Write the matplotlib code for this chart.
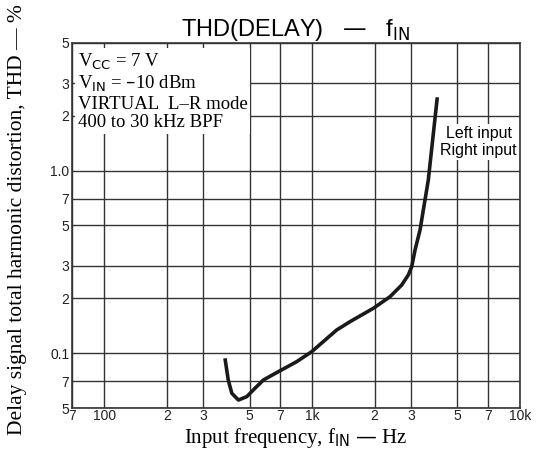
import matplotlib
matplotlib.use('Agg')
import matplotlib.pyplot as plt
from matplotlib.ticker import FixedLocator, FixedFormatter, NullLocator

# curve (Hz, %)
freq = [381, 395, 411, 442, 485, 531, 583, 701, 843, 995, 1313, 1522, 1970,
        2370, 2698, 2903, 3013, 3127, 3304, 3622, 4001]
thd = [0.0936, 0.0712, 0.0602, 0.0553, 0.0577, 0.0641, 0.0712, 0.0800, 0.0897,
       0.1017, 0.1338, 0.1486, 0.1759, 0.2036, 0.236, 0.268, 0.297, 0.367,
       0.472, 0.888, 2.52]

x_ticks = [70, 100, 200, 300, 500, 700, 1000, 2000, 3000, 5000, 7000, 10000]
x_labels = ['7', '100', '2', '3', '5', '7', '1k', '2', '3', '5', '7', '10k']
y_ticks = [0.05, 0.07, 0.1, 0.2, 0.3, 0.5, 0.7, 1.0, 2, 3, 5]
y_labels = ['5', '7', '0.1', '2', '3', '5', '7', '1.0', '2', '3', '5']

serif = ['Liberation Serif', 'DejaVu Serif']
sans = ['Liberation Sans', 'DejaVu Sans']

fig = plt.figure(figsize=(5.39, 4.57), dpi=100)
ax = fig.add_axes([72 / 539, 1 - 408 / 457, 448 / 539, 365 / 457])
ax.set_xscale('log')
ax.set_yscale('log')
ax.set_xlim(70, 10000)
ax.set_ylim(0.05, 5)

ax.xaxis.set_major_locator(FixedLocator(x_ticks))
ax.xaxis.set_major_formatter(FixedFormatter(x_labels))
ax.xaxis.set_minor_locator(NullLocator())
ax.yaxis.set_major_locator(FixedLocator(y_ticks))
ax.yaxis.set_major_formatter(FixedFormatter(y_labels))
ax.yaxis.set_minor_locator(NullLocator())
ax.tick_params(length=0, labelsize=10, colors='#222222')
ax.tick_params(axis='x', pad=1)
ax.tick_params(axis='y', pad=2)
for lab in ax.get_xticklabels() + ax.get_yticklabels():
    lab.set_family(sans)

ax.grid(True, color='#333333', linewidth=1.0)
ax.set_axisbelow(True)
for s in ax.spines.values():
    s.set_color('#333333')
    s.set_linewidth(1.2)

ax.plot(freq, thd, color='#1a1a1a', linewidth=2.6, solid_capstyle='butt',
        solid_joinstyle='round', zorder=3)

ax.text(0.013, 0.975,
        'V$_{\\rm CC}$ = 7 V\nV$_{\\rm IN}$ = \u201310 dBm\nVIRTUAL  L\u2013R mode\n400 to 30 kHz BPF',
        transform=ax.transAxes, ha='left', va='top', fontsize=13.5, family=serif,
        math_fontfamily='dejavusans', linespacing=1.1,
        bbox=dict(facecolor='white', edgecolor='none', pad=2), zorder=4)

ax.text(0.993, 0.772, 'Left input\nRight input', transform=ax.transAxes,
        ha='right', va='top', fontsize=11.5, family=sans, linespacing=1.15,
        multialignment='center',
        bbox=dict(facecolor='white', edgecolor='none', pad=1.5), zorder=4)

ax.set_title('THD(DELAY)   \u2014   f$_{\\rm IN}$', fontsize=17, family=sans,
             math_fontfamily='dejavusans', pad=5)
ax.set_xlabel('Input frequency, f$_{\\rm IN}$ \u2014 Hz', fontsize=15, family=serif,
              math_fontfamily='dejavusans')
ax.xaxis.set_label_coords(0.5, -0.05)
ax.set_ylabel('Delay signal total harmonic distortion, THD \u2014 %', fontsize=15.5,
              family=serif)
ax.yaxis.set_label_coords(-0.1, 0.515)

fig.savefig('out.png', dpi=100)
